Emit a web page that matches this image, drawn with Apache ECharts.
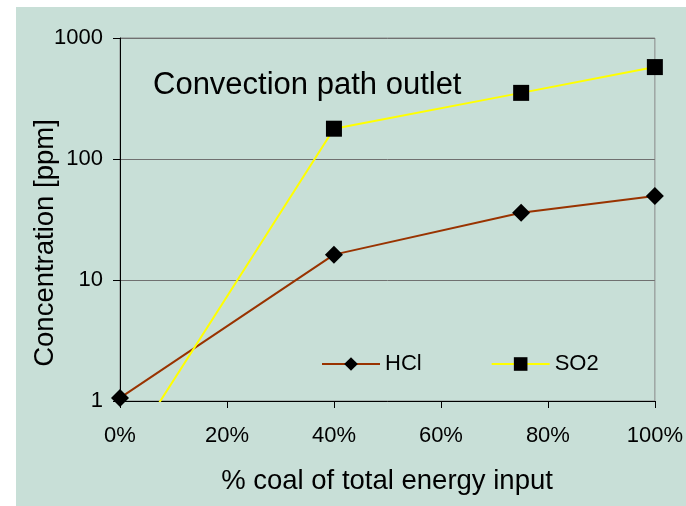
<!DOCTYPE html>
<html>
<head>
<meta charset="utf-8">
<script src="https://cdn.jsdelivr.net/npm/echarts@6/dist/echarts.min.js"></script>
<style>
html,body{margin:0;padding:0;background:#ffffff;}
#bg{position:absolute;left:16px;top:7px;width:670px;height:499px;background:#C8DFD7;}
#chart{position:absolute;left:0;top:0;width:686px;height:506px;}
</style>
</head>
<body>
<div id="bg"></div>
<div id="chart"></div>
<script>
// Data
const xPercent = [0, 40, 75, 100];
const hclValues = [1.06, 16.2, 36, 49.5];
const so2Values = [0.3, 178, 352, 575];
const seriesNames = ['HCl', 'SO2'];
const yTickLabels = {1: '1', 10: '10', 100: '100', 1000: '1000'};
const titleText = 'Convection path outlet';
const xAxisTitle = '% coal of total energy input';
const yAxisTitle = 'Concentration [ppm]';

const font = 'Liberation Sans, Arial, sans-serif';
const chart = echarts.init(document.getElementById('chart'), null, {renderer: 'canvas'});

const option = {
  backgroundColor: 'transparent',
  animation: false,
  textStyle: {fontFamily: font},
  title: {
    text: titleText,
    left: 148,
    top: 65,
    textStyle: {fontSize: 31, fontWeight: 'normal', color: '#000', fontFamily: font}
  },
  legend: {
    left: 321,
    top: 353,
    padding: 0,
    itemWidth: 58,
    itemHeight: 17,
    itemGap: 69,
    textStyle: {fontSize: 22, color: '#000', fontFamily: font},
    data: seriesNames
  },
  grid: {
    left: 120, right: 31, top: 38, bottom: 105,
    show: true, borderColor: '#888', borderWidth: 1, backgroundColor: 'transparent'
  },
  xAxis: {
    type: 'value', min: 0, max: 100, interval: 20,
    axisLine: {show: true, lineStyle: {color: '#000', width: 1}},
    axisTick: {show: true, length: 7, inside: false, lineStyle: {color: '#000'}},
    axisLabel: {formatter: '{value}%', fontSize: 22, color: '#000', margin: 24, fontFamily: font},
    splitLine: {show: false}
  },
  yAxis: {
    type: 'log', logBase: 10, min: 1, max: 1000,
    axisLine: {show: true, lineStyle: {color: '#000', width: 1}},
    axisTick: {show: true, length: 7, lineStyle: {color: '#000'}},
    axisLabel: {fontSize: 22, color: '#000', margin: 17, fontFamily: font,
      formatter: v => yTickLabels[Math.round(v)] || String(Math.round(v))},
    splitLine: {show: true, lineStyle: {color: '#707070', width: 1}},
    minorTick: {show: false}
  },
  graphic: [
    {type: 'text', x: 387, y: 481, style: {text: xAxisTitle, fontSize: 27.5, fill: '#000', fontFamily: font, textAlign: 'center', textVerticalAlign: 'middle'}},
    {type: 'text', x: 45, y: 243, rotation: Math.PI/2, style: {text: yAxisTitle, fontSize: 27.5, fill: '#000', fontFamily: font, textAlign: 'center', textVerticalAlign: 'middle'}}
  ],
  series: [
    {
      name: seriesNames[0], type: 'line', clip: true,
      data: xPercent.map((x, i) => [x, hclValues[i]]),
      symbol: 'diamond', symbolSize: 18,
      lineStyle: {color: '#993300', width: 2},
      itemStyle: {color: '#000', borderWidth: 0},
      z: 3
    },
    {
      name: seriesNames[1], type: 'line', clip: true,
      data: xPercent.map((x, i) => [x, so2Values[i]]),
      symbol: 'rect', symbolSize: 16,
      lineStyle: {color: '#FFFF00', width: 2},
      itemStyle: {color: '#000', borderWidth: 0},
      z: 4
    }
  ]
};
chart.setOption(option);
</script>
</body>
</html>
